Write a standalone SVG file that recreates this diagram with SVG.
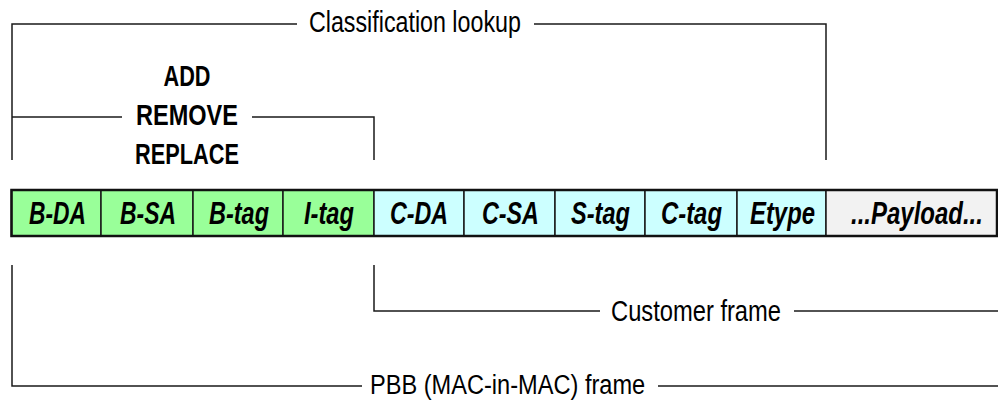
<svg xmlns="http://www.w3.org/2000/svg" width="998" height="400" viewBox="0 0 998 400">
  <style>
    .lbl { font-family: "Liberation Sans", Arial, sans-serif; font-size: 29px; fill: #000; }
    .op { font-family: "Liberation Sans", Arial, sans-serif; font-size: 29px; font-weight: bold; fill: #000; }
    .fld { font-family: "Liberation Sans", Arial, sans-serif; font-size: 31px; font-weight: bold; font-style: italic; fill: #000; }
    .line { fill: none; stroke: #1a1a1a; stroke-width: 1.5; }
    .cellB { fill: #99FF99; stroke: #1a1a1a; stroke-width: 1.5; }
    .cellC { fill: #CCFFFF; stroke: #1a1a1a; stroke-width: 1.5; }
    .cellP { fill: #F2F2F2; stroke: #1a1a1a; stroke-width: 1.5; }
  </style>

  <!-- bracket lines -->
  <g id="connectors">
    <path class="line" d="M12,160 V24 H297"/>
    <path class="line" d="M534,24 H826 V160"/>
    <path class="line" d="M12,117 H122"/>
    <path class="line" d="M252,117 H374 V160"/>
    <path class="line" d="M374,265 V311 H600"/>
    <path class="line" d="M794,311 H998"/>
    <path class="line" d="M12,265 V386 H362"/>
    <path class="line" d="M658,386 H998"/>
  </g>

  <!-- labels are drawn in a narrowed face: each text is squeezed horizontally -->
  <g id="classification-label">
    <text class="lbl" transform="translate(309,32) scale(0.802,1)">Classification lookup</text>
  </g>

  <g id="operations-label">
    <text class="op" transform="translate(163.5,86) scale(0.748,1)">ADD</text>
    <text class="op" transform="translate(136,125) scale(0.811,1)">REMOVE</text>
    <text class="op" transform="translate(135,163.5) scale(0.750,1)">REPLACE</text>
  </g>

  <g id="customer-label">
    <text class="lbl" transform="translate(611,321) scale(0.818,1)">Customer frame</text>
  </g>

  <g id="pbb-label">
    <text class="lbl" style="font-size:28px" transform="translate(370,394) scale(0.843,1)">PBB (MAC-in-MAC) frame</text>
  </g>

  <!-- frame fields -->
  <g id="b-da">
    <rect class="cellB" x="11.5" y="190" width="89.5" height="46"/>
    <text class="fld" transform="translate(29,224) scale(0.736,1)">B-DA</text>
  </g>
  <g id="b-sa">
    <rect class="cellB" x="101" y="190" width="92" height="46"/>
    <text class="fld" transform="translate(120,224) scale(0.739,1)">B-SA</text>
  </g>
  <g id="b-tag">
    <rect class="cellB" x="193" y="190" width="90" height="46"/>
    <text class="fld" transform="translate(209,224) scale(0.758,1)">B-tag</text>
  </g>
  <g id="i-tag">
    <rect class="cellB" x="283" y="190" width="91" height="46"/>
    <text class="fld" transform="translate(304,224) scale(0.764,1)">I-tag</text>
  </g>
  <g id="c-da">
    <rect class="cellC" x="374" y="190" width="90" height="46"/>
    <text class="fld" transform="translate(390,224) scale(0.749,1)">C-DA</text>
  </g>
  <g id="c-sa">
    <rect class="cellC" x="464" y="190" width="91" height="46"/>
    <text class="fld" transform="translate(482,224) scale(0.752,1)">C-SA</text>
  </g>
  <g id="s-tag">
    <rect class="cellC" x="555" y="190" width="90" height="46"/>
    <text class="fld" transform="translate(571,224) scale(0.761,1)">S-tag</text>
  </g>
  <g id="c-tag">
    <rect class="cellC" x="645" y="190" width="92" height="46"/>
    <text class="fld" transform="translate(661,224) scale(0.770,1)">C-tag</text>
  </g>
  <g id="etype">
    <rect class="cellC" x="737" y="190" width="89" height="46"/>
    <text class="fld" transform="translate(750,224) scale(0.770,1)">Etype</text>
  </g>
  <g id="payload">
    <rect class="cellP" x="826" y="190" width="171" height="46"/>
    <text class="fld" transform="translate(851,224) scale(0.774,1)">...Payload...</text>
  </g>

  <!-- heavier outline round the whole frame -->
  <rect x="11.5" y="190" width="985.5" height="46" fill="none" stroke="#111" stroke-width="2.5"/>
</svg>
